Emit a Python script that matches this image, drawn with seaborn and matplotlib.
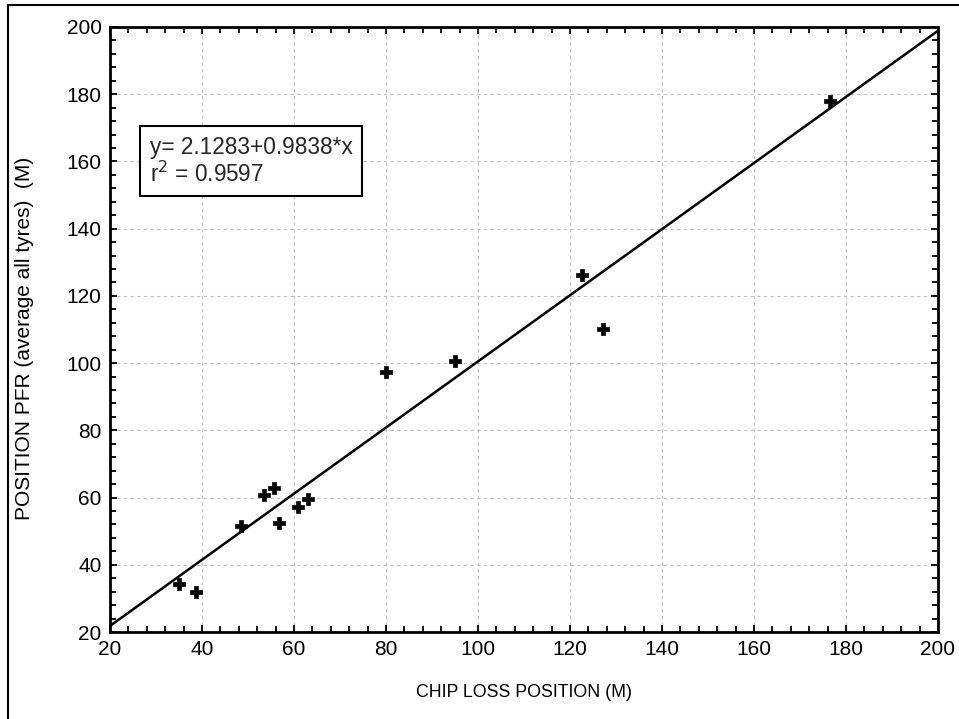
import matplotlib
matplotlib.use("Agg")
import matplotlib.pyplot as plt
from matplotlib.patches import Rectangle
from matplotlib.ticker import MultipleLocator
import numpy as np
import pandas as pd
import seaborn as sns

# Data
chip_loss = [35.1, 38.8, 48.4, 53.5, 55.7, 56.7, 60.9, 63.1, 80.0, 94.9, 122.5, 127.2, 176.5]
pfr_pos   = [34.2, 32.0, 51.5, 60.8, 62.9, 52.3, 57.1, 59.5, 97.3, 100.6, 126.2, 110.1, 178.0]
intercept = 2.1283
slope = 0.9838
r2 = 0.9597
fit_x = [20, 200]

sns.set_theme(style="white")
plt.rcParams['font.family'] = ['Liberation Sans', 'DejaVu Sans']

df = pd.DataFrame({"x": chip_loss, "y": pfr_pos})
fit_df = pd.DataFrame({"x": fit_x, "y": [intercept + slope * v for v in fit_x]})

fig = plt.figure(figsize=(9.59, 7.19), dpi=100)
ax = fig.add_axes([110/959, 1-632/719, (938-110)/959, (632-27)/719])

sns.lineplot(data=fit_df, x="x", y="y", ax=ax, color="black", linewidth=1.8)
sns.scatterplot(data=df, x="x", y="y", ax=ax, marker="P", s=85, color="black",
                edgecolor="black", linewidth=0.5, zorder=5)

ax.set_xlim(20, 200)
ax.set_ylim(20, 200)
ax.xaxis.set_major_locator(MultipleLocator(20))
ax.yaxis.set_major_locator(MultipleLocator(20))
ax.xaxis.set_minor_locator(MultipleLocator(4))
ax.yaxis.set_minor_locator(MultipleLocator(4))
ax.tick_params(which="both", direction="in", top=True, right=True, bottom=True, left=True,
               color="black", width=1.3)
ax.tick_params(which="major", length=5, labelsize=15, pad=6, labelcolor="black")
ax.tick_params(which="minor", length=4)
ax.grid(True, which="major", linestyle=(0, (3, 3)), color="#c0c0c0", linewidth=0.8)
for sp in ax.spines.values():
    sp.set_visible(True)
    sp.set_color("black")
    sp.set_linewidth(2.0)

ax.set_xlabel("CHIP LOSS POSITION (M)", fontsize=12.8, color="black", labelpad=18)
ax.set_ylabel("POSITION PFR (average all tyres)  (M)", fontsize=15, color="black")
ax.yaxis.set_label_coords(-0.092, 0.485)

ax.text(0.048, 0.820, "y= 2.1283+0.9838*x\nr$^2$ = 0.9597", transform=ax.transAxes,
        fontsize=16.3, va="top", ha="left", linespacing=1.12,
        bbox=dict(boxstyle="square,pad=0.42", facecolor="white", edgecolor="black", linewidth=1.5),
        zorder=6)

fig.patches.append(Rectangle((8/959, -0.1), 2.0, 1.1 - 4.5/719, transform=fig.transFigure,
                             fill=False, edgecolor="black", linewidth=1.5))

fig.savefig("out.png", dpi=100)
